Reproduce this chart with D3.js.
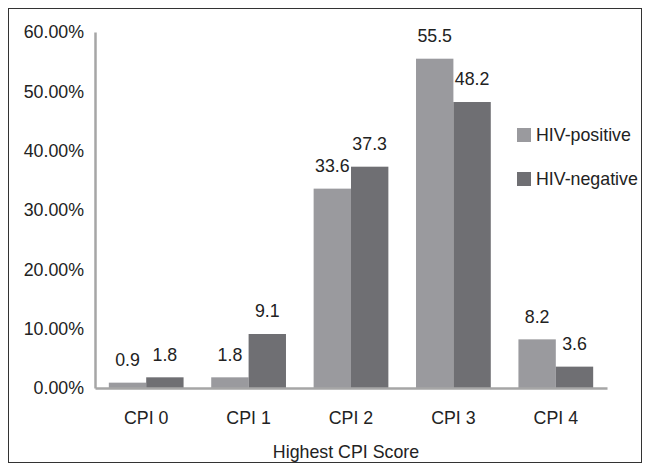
<!DOCTYPE html>
<html lang="en">
<head>
<meta charset="UTF-8">
<title>Highest CPI Score</title>
<style>
    body { margin: 0; background: #fff; }
    text { font-family: "Liberation Sans", Arial, sans-serif; fill: #222; }
    .axis .tick line { display: none; }
</style>
</head>
<body>
<svg width="650" height="471"></svg>
<script src="https://d3js.org/d3.v7.min.js"></script>
<script>
    var categories = ["CPI 0", "CPI 1", "CPI 2", "CPI 3", "CPI 4"];
    var seriesNames = ["HIV-positive", "HIV-negative"];
    var hivPositive = [0.9, 1.8, 33.6, 55.5, 8.2];
    var hivNegative = [1.8, 9.1, 37.3, 48.2, 3.6];
    var yTicks = [0, 10, 20, 30, 40, 50, 60];
    var colors = ["#9a9a9e", "#6f6f73"];
    var fs = 17.8;

    var svg = d3.select("svg"),
        margin = {top: 32, left: 95, bottom: 83, right: 43},
        width = +svg.attr("width") - margin.left - margin.right,
        height = +svg.attr("height") - margin.top - margin.bottom;

    // outer frame
    svg.append("rect")
        .attr("x", 8.5).attr("y", 8.5)
        .attr("width", 633).attr("height", 454)
        .attr("fill", "none").attr("stroke", "#333").attr("stroke-width", 1);

    var g = svg.append("g").attr("transform", "translate(" + margin.left + "," + margin.top + ")");

    var x0 = d3.scaleBand().domain(categories).range([0, width]).paddingInner(0.27).paddingOuter(0.135);
    var x1 = d3.scaleBand().domain(seriesNames).range([0, x0.bandwidth()]);
    var y = d3.scaleLinear().domain([0, 60]).range([height, 0]);

    var rows = categories.map(function(c, i) {
        return {cat: c, vals: [hivPositive[i], hivNegative[i]]};
    });

    var groups = g.selectAll(".grp").data(rows).enter().append("g")
        .attr("transform", function(d) { return "translate(" + x0(d.cat) + ",0)"; });

    groups.selectAll("rect")
        .data(function(d) { return d.vals.map(function(v, j) { return {key: seriesNames[j], v: v, j: j}; }); })
        .enter().append("rect")
        .attr("x", function(d) { return x1(d.key); })
        .attr("y", function(d) { return y(d.v); })
        .attr("width", x1.bandwidth())
        .attr("height", function(d) { return height - y(d.v); })
        .attr("fill", function(d) { return colors[d.j]; });

    groups.selectAll(".lbl")
        .data(function(d) { return d.vals.map(function(v, j) { return {key: seriesNames[j], v: v}; }); })
        .enter().append("text")
        .attr("x", function(d) { return x1(d.key) + x1.bandwidth() / 2; })
        .attr("y", function(d) { return y(d.v) - 23; })
        .attr("dy", "0.35em")
        .attr("text-anchor", "middle")
        .attr("font-size", fs)
        .text(function(d) { return d.v.toFixed(1); });

    // y axis
    var yAxis = g.append("g").attr("class", "axis")
        .call(d3.axisLeft(y).tickValues(yTicks).tickSize(0).tickPadding(11)
            .tickFormat(function(d) { return d.toFixed(2) + "%"; }));
    yAxis.select(".domain").attr("stroke", "#a6a6a6").attr("stroke-width", 2.5);
    yAxis.selectAll("text").attr("font-size", fs).attr("font-family", null).style("fill", "#222");

    // x axis
    var xAxis = g.append("g").attr("class", "axis")
        .attr("transform", "translate(0," + height + ")")
        .call(d3.axisBottom(x0).tickSize(0).tickPadding(23));
    xAxis.select(".domain").attr("stroke", "#a6a6a6").attr("stroke-width", 2.5);
    xAxis.selectAll("text").attr("font-size", fs).attr("font-family", null).style("fill", "#222");

    g.append("text")
        .attr("x", width / 2 - 5).attr("y", height + 64)
        .attr("dy", "0.35em")
        .attr("text-anchor", "middle")
        .attr("font-size", fs)
        .text("Highest CPI Score");

    // legend
    var legend = svg.append("g").selectAll("g").data(seriesNames).enter().append("g")
        .attr("transform", function(d, i) { return "translate(517," + (135 + i * 44) + ")"; });
    legend.append("rect").attr("x", 0).attr("y", -7).attr("width", 14).attr("height", 14)
        .attr("fill", function(d, i) { return colors[i]; });
    legend.append("text").attr("x", 19).attr("dy", "0.35em").attr("font-size", fs)
        .text(function(d) { return d; });
</script>
</body>
</html>
